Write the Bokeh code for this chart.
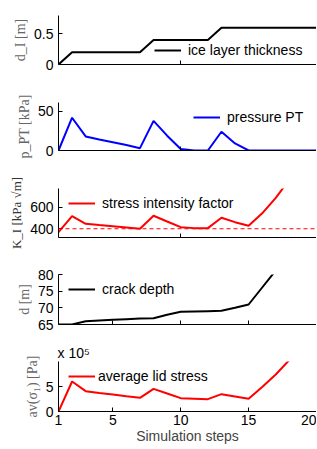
import numpy as np
from bokeh.plotting import figure
from bokeh.layouts import column
from bokeh.models import (Range1d, Legend, LegendItem, Span, FixedTicker,
                          CustomLabelingPolicy)
from bokeh.embed import file_html
from bokeh.resources import INLINE

# ---- data ----
steps = list(range(1, 21))
ice_thickness = [0, 0.2, 0.2, 0.2, 0.2, 0.2, 0.2, 0.4, 0.4, 0.4, 0.4, 0.4,
                 0.6, 0.6, 0.6, 0.6, 0.6, 0.6, 0.6, 0.6]
pressure_pt = [0, 42, 18, 14, 10.5, 7, 3, 38, 19, 2, 0, 0, 24, 9, 0, 0, 0, 0, 0, 0]
stress_intensity = [368, 518, 447, 435, 424, 412, 400, 522, 468, 415, 406, 406,
                    503, 462, 428, 545, 690, 860]
crack_depth = [65, 65, 66.0, 66.2, 66.4, 66.6, 66.8, 66.9, 67.9, 68.8, 68.9, 69.0,
               69.1, 70.0, 71.0, 76.1, 81.2]
lid_stress = [0, 6.0e5, 4.07e5, 3.7e5, 3.4e5, 3.05e5, 2.73e5, 4.53e5, 3.6e5, 2.67e5,
              2.57e5, 2.47e5, 3.47e5, 3.0e5, 2.53e5, 4.9e5, 7.4e5, 10.3e5]
k_threshold = 400
x_ticks_bottom = [1, 5, 10, 15, 20]

TICK_FONT = "Liberation Sans"
LABEL_FONT = "Liberation Serif"
W = 316


def make_panel(height, top, bottom, yrange, yticks, ylabel, xticks,
               label_color="#666666", show_xlabels=False, label_size="14px", title=None):
    p = figure(width=W, height=height, output_backend="svg", toolbar_location=None,
               x_range=Range1d(1, 20), y_range=Range1d(*yrange),
               min_border_left=58, min_border_right=0, min_border_top=top,
               min_border_bottom=bottom, title=title)
    p.outline_line_color = None
    p.grid.visible = False
    p.background_fill_color = "white"
    p.border_fill_color = "white"
    for ax in (p.xaxis[0], p.yaxis[0]):
        ax.axis_line_color = "black"
        ax.axis_line_width = 1
        ax.major_tick_in = 4
        ax.major_tick_out = 0
        ax.minor_tick_line_color = None
        ax.major_tick_line_color = "black"
        ax.major_label_text_font = TICK_FONT
        ax.major_label_text_font_size = "14px"
        ax.major_label_text_color = "black"
    p.yaxis.ticker = FixedTicker(ticks=yticks)
    p.yaxis.major_label_standoff = 5
    p.yaxis.axis_label = ylabel
    p.yaxis.axis_label_text_font = LABEL_FONT
    p.yaxis.axis_label_text_font_style = "normal"
    p.yaxis.axis_label_text_font_size = label_size
    p.yaxis.axis_label_text_color = label_color
    p.yaxis.axis_label_standoff = 3
    p.xaxis.ticker = FixedTicker(ticks=xticks)
    if not show_xlabels:
        p.xaxis.major_label_policy = CustomLabelingPolicy(code="return []")
        p.xaxis.major_label_standoff = 0
    return p


def add_legend(p, r, label, x, y, standoff=7):
    leg = Legend(items=[LegendItem(label=label, renderers=[r])], location=(x, y),
                 border_line_color=None, background_fill_alpha=0, padding=0,
                 margin=0, spacing=0, glyph_width=27, glyph_height=16,
                 label_height=16, label_standoff=standoff,
                 label_text_font=TICK_FONT, label_text_font_size="14px",
                 label_text_color="black")
    p.add_layout(leg, "center")


# Panel 1: ice layer thickness
p1 = make_panel(94, 15, 30, (0, 0.8), [0, 0.5], "d_I [m]", [10])
p1.yaxis.major_label_overrides = {0: "0", 0.5: "0.5"}
r1 = p1.line(steps, ice_thickness, line_color="black", line_width=2)
add_legend(p1, r1, "ice layer thickness", 96, 6)

# Panel 2: pressure PT
p2 = make_panel(78, 8, 22, (0, 61.5), [0, 50], "p_PT [kPa]", [10])
r2 = p2.line(steps, pressure_pt, line_color="#0000ff", line_width=2)
add_legend(p2, r2, "pressure PT", 135, 25)

# Panel 3: stress intensity factor
p3 = make_panel(96, 16, 31, (318, 778), [400, 600], "K_I [kPa √m]", [10],
                label_color="#333333", label_size="13px")
p3.add_layout(Span(location=k_threshold, dimension="width", line_color="#ff0000",
                   line_dash="4 3", line_width=1))
r3 = p3.line(steps[:len(stress_intensity)], stress_intensity, line_color="#ff0000",
             line_width=2)
add_legend(p3, r3, "stress intensity factor", 10, 26)

# Panel 4: crack depth
p4 = make_panel(72, 6, 16, (65, 80), [65, 70, 75, 80], "d [m]", [5, 10, 15, 20])
r4 = p4.line(steps[:len(crack_depth)], crack_depth, line_color="black", line_width=2)
add_legend(p4, r4, "crack depth", 10, 27)

# Panel 5: average lid stress
p5 = make_panel(108, 21, 37, (0, 10), [0, 5], "av(σ₁) [Pa]", x_ticks_bottom,
                show_xlabels=True, title="x 10⁵")
p5.title.align = "left"
p5.title.offset = -1
p5.title.standoff = 2
p5.title.text_font = TICK_FONT
p5.title.text_font_size = "14px"
p5.title.text_font_style = "normal"
p5.title.text_color = "black"
p5.xaxis.major_label_standoff = 3
p5.xaxis.axis_label = "Simulation steps"
p5.xaxis.axis_label_text_font = TICK_FONT
p5.xaxis.axis_label_text_font_style = "normal"
p5.xaxis.axis_label_text_font_size = "14px"
p5.xaxis.axis_label_standoff = 0
lid_scaled = np.array(lid_stress) / 1e5
r5 = p5.line(steps[:len(lid_stress)], lid_scaled, line_color="#ff0000", line_width=2)
add_legend(p5, r5, "average lid stress", 10, 27, standoff=3)

layout = column(p1, p2, p3, p4, p5, spacing=0)
open("out.html", "w").write(file_html(layout, INLINE))
